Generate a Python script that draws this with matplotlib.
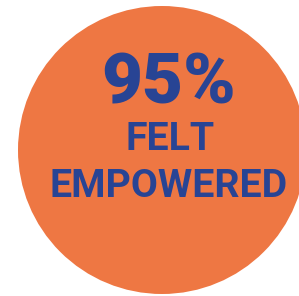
import matplotlib.pyplot as plt
from matplotlib.patches import Circle

# 数据
percent = 95
label_lines = ['FELT', 'EMPOWERED']

orange = '#ee7743'
blue = '#284494'

W, H = 299, 296
fig = plt.figure(figsize=(W / 100, H / 100), dpi=100)
ax = fig.add_axes([0, 0, 1, 1])
ax.set_xlim(0, W)
ax.set_ylim(H, 0)
ax.axis('off')

ax.add_patch(Circle((162, 150), 144, color=orange, lw=0))

ax.text(169, 103, f'{percent}%', ha='center', va='baseline',
        fontsize=51, fontfamily='Roboto', fontweight='black', color=blue)
ax.text(170, 150, label_lines[0], ha='center', va='baseline',
        fontsize=28.3, fontfamily='Roboto', fontweight='bold', color=blue)
ax.text(169, 197, label_lines[1], ha='center', va='baseline',
        fontsize=28.3, fontfamily='Roboto', fontweight='bold', color=blue)

fig.savefig('out.png', dpi=100, facecolor='white')
